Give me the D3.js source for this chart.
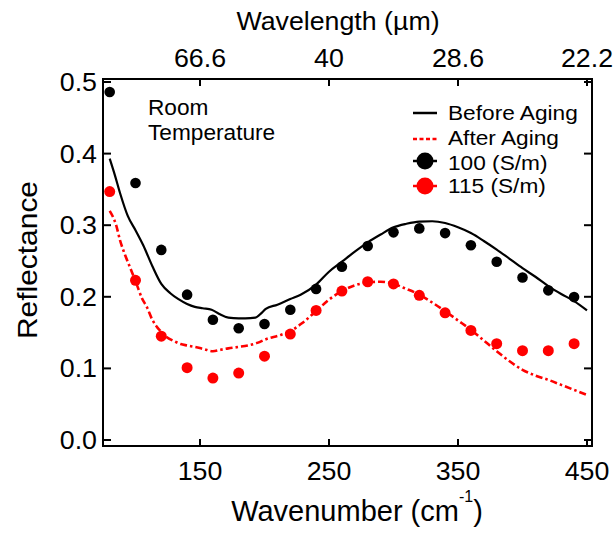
<!DOCTYPE html>
<html><head><meta charset="utf-8">
<script src="https://cdn.jsdelivr.net/npm/d3@7"></script>
<style>body{margin:0;background:#fff}svg{display:block}text{font-family:"Liberation Sans",Arial,sans-serif;fill:#000}</style>
</head><body><svg id="c" width="614" height="537"></svg>
<script>
// ---- data ----
const xTicks = [150, 250, 350, 450];
const topTickLabels = ["66.6", "40", "28.6", "22.2"];
const yTicks = [0.0, 0.1, 0.2, 0.3, 0.4, 0.5];

const beforeX = [80,84,88,94,100,106,113,120,127,133,140,146,152,159,165,172,180,185,193,198,201,210,220,228,240,250,260,270,280,290,300,310,320,330,340,350,360,370,380,390,400,410,420,430,440,450];
const beforeY = [0.393,0.370,0.345,0.313,0.293,0.272,0.243,0.218,0.205,0.197,0.190,0.186,0.184,0.182,0.176,0.171,0.170,0.170,0.171,0.178,0.183,0.189,0.197,0.203,0.217,0.235,0.249,0.263,0.276,0.287,0.297,0.302,0.305,0.3055,0.303,0.297,0.289,0.278,0.266,0.253,0.240,0.228,0.215,0.204,0.194,0.181];

const afterX = [80,85,88,92,96,100,105,109,113,117,120,124,130,135,140,146,153,160,166,172,180,187,195,200,213,220,229,240,250,260,270,280,290,300,310,320,330,340,350,360,370,380,390,400,410,420,430,440,450];
const afterY = [0.320,0.300,0.279,0.258,0.240,0.222,0.198,0.185,0.168,0.157,0.151,0.144,0.138,0.134,0.132,0.130,0.127,0.124,0.126,0.128,0.130,0.132,0.136,0.140,0.147,0.152,0.163,0.180,0.196,0.208,0.216,0.220,0.221,0.218,0.211,0.203,0.192,0.180,0.167,0.154,0.139,0.124,0.110,0.098,0.090,0.084,0.077,0.070,0.063];

const pointX = [80,100,120,140,160,180,200,220,240,260,280,300,320,340,360,380,400,420,440];
const s100 = [0.486,0.359,0.2655,0.203,0.168,0.156,0.162,0.182,0.211,0.242,0.271,0.290,0.2955,0.289,0.272,0.249,0.227,0.209,0.1996];
const s115 = [0.347,0.223,0.145,0.101,0.0865,0.0935,0.117,0.148,0.181,0.208,0.221,0.218,0.202,0.1777,0.153,0.1346,0.1248,0.1248,0.1346];

const legendLabels = ["Before Aging", "After Aging", "100 (S/m)", "115 (S/m)"];

// ---- layout ----
const svg = d3.select("#c");
const L = 103, R = 592, T = 79, B = 446;
const x = d3.scaleLinear().domain([150, 450]).range([200, 587]);
const y = d3.scaleLinear().domain([0, 0.5]).range([440, 82]);

function txt(g, s, px, py, size, anchor, sx) {
  return g.append("text").attr("transform", `translate(${px},${py}) scale(${sx||1},1)`)
    .attr("text-anchor", anchor || "start").style("font-size", size + "px").text(s);
}

// frame
svg.append("rect").attr("x", L).attr("y", T).attr("width", R - L).attr("height", B - T)
  .attr("fill", "none").attr("stroke", "#000").attr("stroke-width", 2);

// ticks
const tk = svg.append("g").attr("stroke", "#000").attr("stroke-width", 2);
xTicks.forEach(v => {
  tk.append("line").attr("x1", x(v)).attr("x2", x(v)).attr("y1", B).attr("y2", B - 7);
  tk.append("line").attr("x1", x(v)).attr("x2", x(v)).attr("y1", T).attr("y2", T + 7);
});
yTicks.forEach(v => {
  tk.append("line").attr("x1", L).attr("x2", L + 8).attr("y1", y(v)).attr("y2", y(v));
  tk.append("line").attr("x1", R).attr("x2", R - 8).attr("y1", y(v)).attr("y2", y(v));
});

// tick labels
const lab = svg.append("g");
const TF = 25.5, TS = 1.05;
xTicks.forEach(v => txt(lab, String(v), x(v), 480, TF, "middle", TS));
xTicks.forEach((v, i) => txt(lab, topTickLabels[i], x(v), 67, TF, "middle", TS));
yTicks.forEach(v => txt(lab, d3.format(".1f")(v), 97, y(v) + 9, TF, "end", TS));

// axis titles
const xt = svg.append("text").attr("transform", `translate(357,521)`)
  .attr("text-anchor", "middle").style("font-size", "29px");
xt.append("tspan").text("Wavenumber (cm");
xt.append("tspan").attr("dy", -19).style("font-size", "16px").text("-1");
xt.append("tspan").attr("dy", 19).text(")");
txt(svg, "Wavelength (µm)", 338, 30, 25, "middle", 1.07);
svg.append("text").attr("transform", "translate(37,260) rotate(-90) scale(1.05,1)")
  .attr("text-anchor", "middle").style("font-size", "28.5px").text("Reflectance");

// annotation
txt(svg, "Room", 148, 115, 22, "start", 1.03);
txt(svg, "Temperature", 148, 140, 22, "start", 1.03);

// lines
const lineGen = d3.line().x(d => x(d[0])).y(d => y(d[1])).curve(d3.curveMonotoneX);
svg.append("path").datum(beforeX.map((v, i) => [v, beforeY[i]]))
  .attr("d", lineGen).attr("fill", "none").attr("stroke", "#000").attr("stroke-width", 2.2);
svg.append("path").datum(afterX.map((v, i) => [v, afterY[i]]))
  .attr("d", lineGen).attr("fill", "none").attr("stroke", "#ff0000").attr("stroke-width", 2.6)
  .attr("stroke-dasharray", "7,3,2.5,3");

// points
svg.append("g").selectAll("circle").data(pointX.map((v, i) => [v, s100[i]])).join("circle")
  .attr("cx", d => x(d[0])).attr("cy", d => y(d[1])).attr("r", 5.3).attr("fill", "#000");
svg.append("g").selectAll("circle").data(pointX.map((v, i) => [v, s115[i]])).join("circle")
  .attr("cx", d => x(d[0])).attr("cy", d => y(d[1])).attr("r", 5.5).attr("fill", "#ff0000");

// legend
const lg = svg.append("g");
const baseY = [120, 144.5, 169.5, 192.5];
lg.append("line").attr("x1", 413).attr("x2", 437).attr("y1", 113).attr("y2", 113).attr("stroke", "#000").attr("stroke-width", 2.5);
lg.append("line").attr("x1", 413).attr("x2", 437).attr("y1", 139).attr("y2", 139).attr("stroke", "#ff0000").attr("stroke-width", 2.6).attr("stroke-dasharray", "4,2.5");
[["#000", 161], ["#ff0000", 186]].forEach(([c, cy]) => {
  lg.append("line").attr("x1", 413).attr("x2", 437).attr("y1", cy).attr("y2", cy).attr("stroke", c).attr("stroke-width", 2.5);
  lg.append("circle").attr("cx", 425).attr("cy", cy).attr("r", 8.5).attr("fill", c);
});
legendLabels.forEach((s, i) => txt(lg, s, 448, baseY[i], 21, "start", 1.08));
</script></body></html>
